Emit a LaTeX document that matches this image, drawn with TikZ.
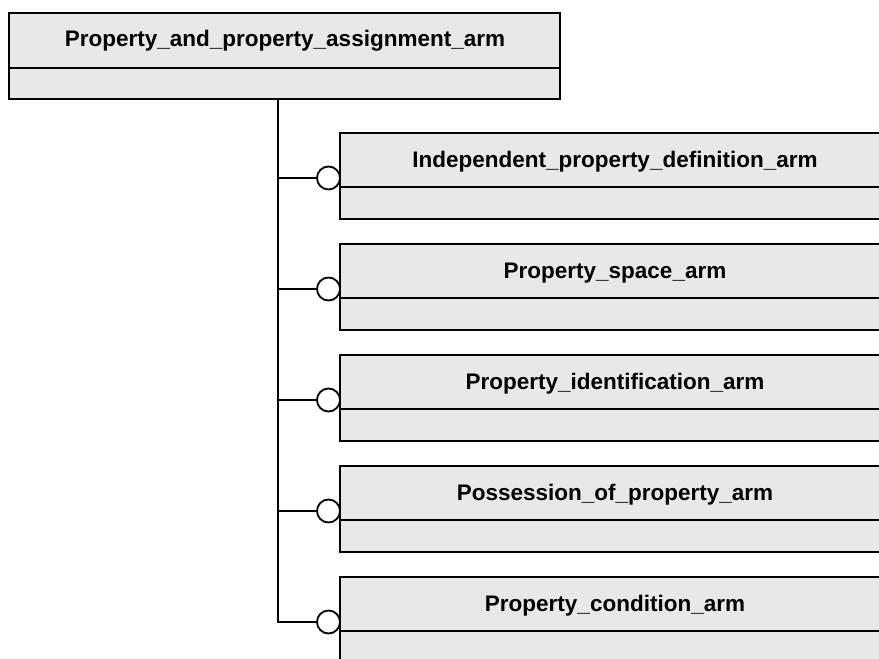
\documentclass[tikz,border=0pt]{standalone}
\usepackage{fontspec}
\setmainfont{Liberation Sans}
\definecolor{boxfill}{RGB}{232,232,232}
\begin{document}
\begin{tikzpicture}[x=1pt,y=-1pt,
  every node/.style={inner sep=0pt,outer sep=0pt},
  ent/.style={draw=black,fill=boxfill,line width=1.8pt,minimum width=#1,minimum height=86pt},
  lbl/.style={font=\fontsize{22.5}{26}\selectfont\bfseries,anchor=base},
  conn/.style={line width=1.8pt},
  ring/.style={circle,draw=black,fill=white,line width=1.8pt,minimum size=23pt}]
\useasboundingbox (0,0) rectangle (879,659);
\clip (0,0) rectangle (879,659);
% top entity
\node[ent=551pt] (top) at (284.5,56) {};
\draw[conn] (top.west |- 0,68) -- (top.east |- 0,68);
\node[lbl] (toplbl) at (285,46) {Property\_and\_property\_assignment\_arm};
% children
\foreach \i/\name in {0/Independent\_property\_definition\_arm,1/Property\_space\_arm,2/Property\_identification\_arm,3/Possession\_of\_property\_arm,4/Property\_condition\_arm}{
  \pgfmathsetmacro{\t}{133+111*\i}
  \node[ent=550pt] (b\i) at (615,\t+43) {};
  \draw[conn] (b\i.west |- 0,\t+54) -- (b\i.east |- 0,\t+54);
  \node[lbl] (l\i) at (615,\t+34) {\name};
  \node[ring] (c\i) at (328.5,\t+45) {};
  \coordinate (j\i) at (278,\t+45);
}
\coordinate (t0) at (278,99);
\draw[conn] (t0) -- (j4) -- (c4);
\foreach \i in {0,1,2,3}{\draw[conn] (j\i) -- (c\i);}
\end{tikzpicture}
\end{document}
